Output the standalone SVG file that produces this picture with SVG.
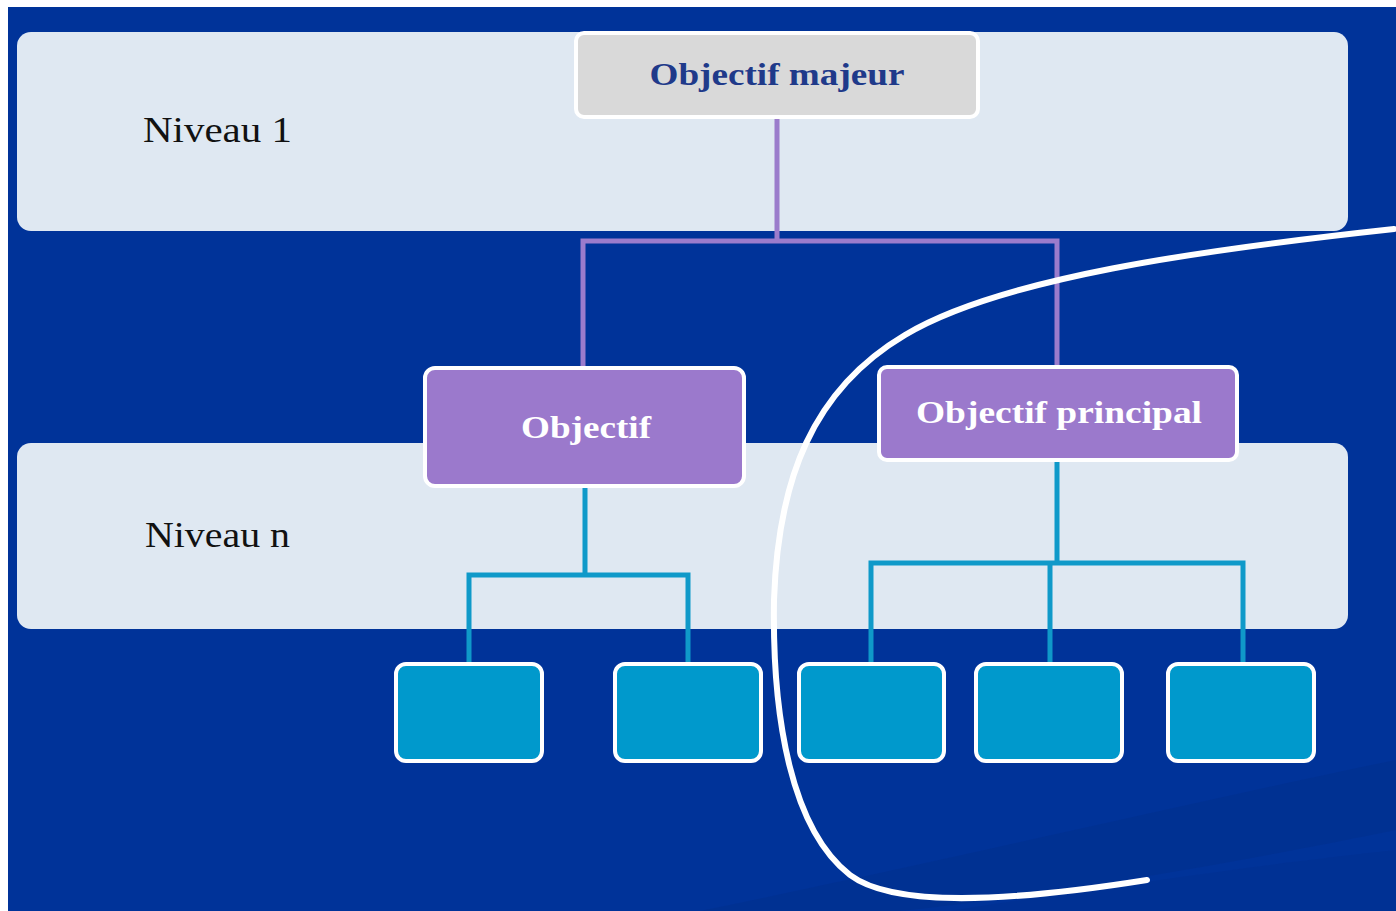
<svg xmlns="http://www.w3.org/2000/svg" width="1396" height="911" viewBox="0 0 1396 911">
<style>
.band{fill:#dfe8f2;}
.node{stroke:#ffffff;stroke-width:4;}
.top{fill:#d9d9d9;}
.mid{fill:#9b79cc;}
.leaf{fill:#0099cc;}
.lblN{font-family:"Liberation Serif",serif;font-size:35px;fill:#111111;}
.lblO{font-family:"Liberation Serif",serif;font-size:32px;font-weight:bold;text-anchor:middle;}
.cp{fill:none;stroke:#9b7ccc;stroke-width:5;}
.ct{fill:none;stroke:#0f99c9;stroke-width:5;}
</style>
<rect x="0" y="0" width="1396" height="911" fill="#ffffff"/>
<rect x="8" y="7" width="1388" height="904" fill="#003399"/>
<path d="M700,911 C950,860 1200,800 1396,760 L1396,830 C1250,860 1050,895 900,911 Z" fill="#002f8c" opacity="0.5"/>
<path d="M950,911 C1150,880 1300,860 1396,850 L1396,911 Z" fill="#00308f" opacity="0.5"/>
<g id="band-niveau-1">
<rect class="band" x="17" y="32" width="1331" height="199" rx="14"/>
<text class="lblN" x="143" y="142" textLength="149" lengthAdjust="spacingAndGlyphs">Niveau 1</text>
</g>
<g id="band-niveau-n">
<rect class="band" x="17" y="443" width="1331" height="186" rx="14"/>
<text class="lblN" x="145" y="547" textLength="145" lengthAdjust="spacingAndGlyphs">Niveau n</text>
</g>
<g id="connectors">
<path class="cp" d="M777,117 V241 M583,241 H1057 M583,238.5 V368 M1057,238.5 V367"/>
<path class="ct" d="M585,487 V575 M469,575 H688 M469,572.5 V664 M688,572.5 V664"/>
<path class="ct" d="M1057,460 V563 M871,563 H1243 M871,560.5 V664 M1050,560.5 V664 M1243,560.5 V664"/>
</g>
<g id="node-objectif-majeur">
<rect class="node top" x="576" y="33" width="402" height="84" rx="8"/>
<text class="lblO" x="777" y="85" fill="#1f3a8a" textLength="255" lengthAdjust="spacingAndGlyphs">Objectif majeur</text>
</g>
<g id="node-objectif">
<rect class="node mid" x="425" y="368" width="319" height="118" rx="10"/>
<text class="lblO" x="586" y="438" fill="#ffffff" textLength="130" lengthAdjust="spacingAndGlyphs">Objectif</text>
</g>
<g id="node-objectif-principal">
<rect class="node mid" x="879" y="367" width="358" height="93" rx="8"/>
<text class="lblO" x="1059" y="423" fill="#ffffff" textLength="286" lengthAdjust="spacingAndGlyphs">Objectif principal</text>
</g>
<g id="leaf-1"><rect class="node leaf" x="396" y="664" width="146" height="97" rx="10"/></g>
<g id="leaf-2"><rect class="node leaf" x="615" y="664" width="146" height="97" rx="10"/></g>
<g id="leaf-3"><rect class="node leaf" x="799" y="664" width="145" height="97" rx="10"/></g>
<g id="leaf-4"><rect class="node leaf" x="976" y="664" width="146" height="97" rx="10"/></g>
<g id="leaf-5"><rect class="node leaf" x="1168" y="664" width="146" height="97" rx="10"/></g>
<path id="curve" d="M1394,229 C1200,250 1000,278 905,335 C812,390 778,480 774,600 C772,720 792,830 850,875 C890,905 990,905 1147,880" fill="none" stroke="#ffffff" stroke-width="6" stroke-linecap="round"/>
</svg>
